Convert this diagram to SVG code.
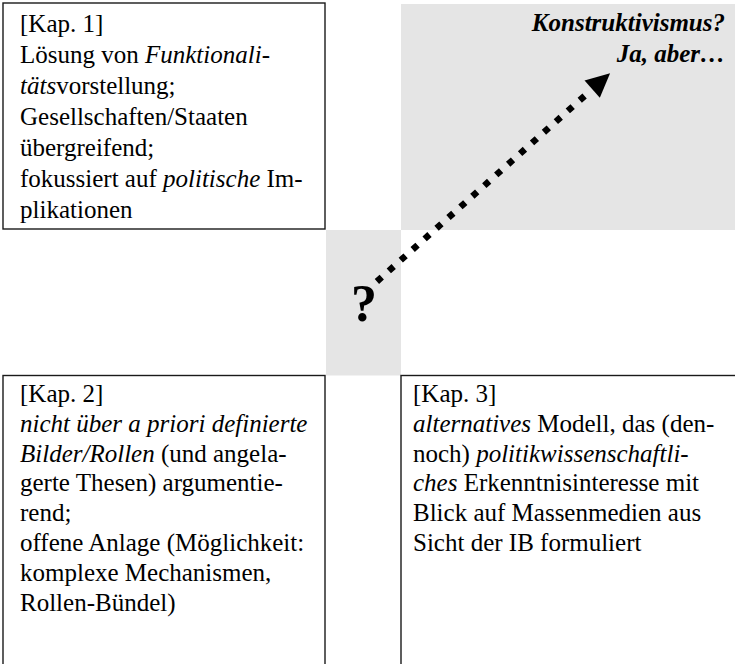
<svg xmlns="http://www.w3.org/2000/svg" width="735" height="664" viewBox="0 0 735 664">
<style>
.box{fill:#fff;stroke:#1a1a1a;stroke-width:1.4}
.grey{fill:#e5e5e5;stroke:none}
.t{font-family:"Liberation Serif","Times New Roman",serif;font-size:25px;fill:#000}
.i{font-style:italic}
.bi{font-family:"Liberation Serif","Times New Roman",serif;font-size:25px;font-weight:bold;font-style:italic;fill:#000}
.q{font-family:"Liberation Serif","Times New Roman",serif;font-size:52px;font-weight:bold;fill:#000}
.dots{stroke:#000;stroke-width:6.5;stroke-dasharray:6.5 9.5;fill:none;stroke-linecap:butt}
</style>
<defs>
<marker id="head" markerUnits="userSpaceOnUse" orient="auto" refX="0" refY="0" markerWidth="40" markerHeight="30" overflow="visible">
<path d="M9.5,-11.5 L33.5,0 L9.5,11.5 Z" fill="#000"/>
</marker>
</defs>
<rect class="grey" x="401" y="4" width="334" height="226"/>
<rect class="grey" x="326" y="230" width="75" height="145.5"/>
<g id="kap1">
<rect class="box" x="3" y="3" width="322" height="226"/>
<text class="t" x="20" y="31.5">[Kap. 1]</text>
<text class="t" x="20" y="62.6">Lösung von <tspan class="i">Funktionali-</tspan></text>
<text class="t" x="20" y="93.7"><tspan class="i">täts</tspan>vorstellung;</text>
<text class="t" x="20" y="124.8">Gesellschaften/Staaten</text>
<text class="t" x="20" y="155.9">übergreifend;</text>
<text class="t" x="20" y="187">fokussiert auf <tspan class="i">politische</tspan> Im-</text>
<text class="t" x="20" y="218.1">plikationen</text>
</g>
<g id="konstruktivismus">
<text class="bi" x="725" y="30.7" text-anchor="end">Konstruktivismus?</text>
<text class="bi" x="725" y="62.3" text-anchor="end">Ja, aber…</text>
</g>
<g id="frage">
<text class="q" x="351" y="320.7">?</text>
</g>
<g id="kap2">
<rect class="box" x="3" y="375.5" width="322" height="300"/>
<text class="t" x="20" y="401.7">[Kap. 2]</text>
<text class="t" x="20" y="431.6"><tspan class="i">nicht über a priori definierte</tspan></text>
<text class="t" x="20" y="461.5"><tspan class="i">Bilder/Rollen</tspan> (und angela-</text>
<text class="t" x="20" y="491.4">gerte Thesen) argumentie-</text>
<text class="t" x="20" y="521.3">rend;</text>
<text class="t" x="20" y="551.2">offene Anlage (Möglichkeit:</text>
<text class="t" x="20" y="581.1">komplexe Mechanismen,</text>
<text class="t" x="20" y="611">Rollen-Bündel)</text>
</g>
<g id="kap3">
<rect class="box" x="401" y="375.5" width="340" height="300"/>
<text class="t" x="413" y="401.7">[Kap. 3]</text>
<text class="t" x="413" y="431.6"><tspan class="i">alternatives</tspan> Modell, das (den-</text>
<text class="t" x="413" y="461.5">noch) <tspan class="i">politikwissenschaftli-</tspan></text>
<text class="t" x="413" y="491.4"><tspan class="i">ches</tspan> Erkenntnisinteresse mit</text>
<text class="t" x="413" y="521.3">Blick auf Massenmedien aus</text>
<text class="t" x="413" y="551.2">Sicht der IB formuliert</text>
</g>
<g id="connectors">
<path class="dots" d="M376.9,281.5 L585.1,95.5" marker-end="url(#head)"/>
</g>
</svg>
